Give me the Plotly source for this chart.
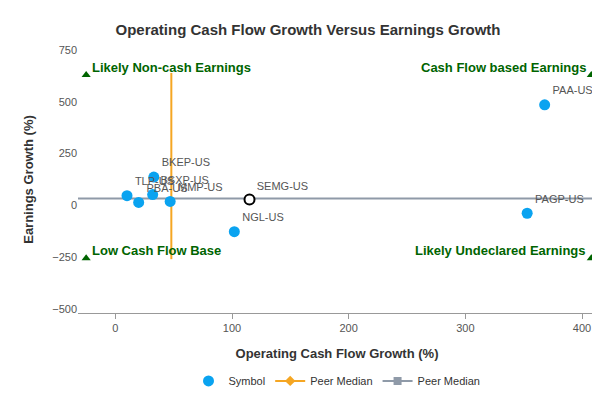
import plotly.graph_objects as go

symbols = ["BKEP-US", "TLP-US", "BSXP-US", "PBA-US", "MMP-US", "NGL-US", "PAGP-US", "PAA-US"]
cf_growth = [33, 10, 32, 20, 47, 102, 353, 368]
eps_growth = [137, 47, 52, 14, 19, -127, -38, 486]

semg_x = [115]
semg_y = [28]

median_x = 48
median_y = 33

corner_x = [-25, 408, -25, 408]
corner_y = [630, 630, -255, -255]
corner_text = ["Likely Non-cash Earnings", "Cash Flow based Earnings",
               "Low Cash Flow Base", "Likely Undeclared Earnings"]

x_range = [-32, 412]
y_range = [-520, 770]

fig = go.Figure()
fig.add_trace(go.Scatter(
    x=[median_x, median_x], y=[640, -260], mode="lines",
    line=dict(color="#f5a623", width=2), name="Peer Median", showlegend=False))
fig.add_trace(go.Scatter(
    x=x_range, y=[median_y, median_y], mode="lines",
    line=dict(color="#8f9aa8", width=2), name="Peer Median", showlegend=False))
fig.add_trace(go.Scatter(
    x=cf_growth, y=eps_growth, mode="markers+text", text=symbols,
    textposition="top right", textfont=dict(size=11, color="#555"),
    marker=dict(size=11, color="#0aa3f0"), name="Symbol", cliponaxis=False))
fig.add_trace(go.Scatter(
    x=semg_x, y=semg_y, mode="markers+text", text=["SEMG-US"],
    textposition="top right", textfont=dict(size=11, color="#555"),
    marker=dict(size=10, color="white", line=dict(color="black", width=2)),
    showlegend=False))
fig.add_trace(go.Scatter(
    x=corner_x, y=corner_y, mode="markers",
    marker=dict(symbol="triangle-up", size=8, color="#006400"),
    showlegend=False, hoverinfo="skip", cliponaxis=False))
# legend entries
fig.add_trace(go.Scatter(x=[None], y=[None], mode="lines+markers",
                         line=dict(color="#f5a623", width=2),
                         marker=dict(symbol="diamond", size=8, color="#f5a623"),
                         name="Peer Median"))
fig.add_trace(go.Scatter(x=[None], y=[None], mode="lines+markers",
                         line=dict(color="#8f9aa8", width=2),
                         marker=dict(symbol="square", size=8, color="#8f9aa8"),
                         name="Peer Median"))

anchors = [("left", "bottom"), ("right", "bottom"), ("left", "bottom"), ("right", "bottom")]
for cx, cy, t, (xa, ya) in zip(corner_x, corner_y, corner_text, anchors):
    fig.add_annotation(x=cx + (3 if xa == "left" else -3), y=cy - 10, text="<b>" + t + "</b>",
                       showarrow=False, xanchor=xa, yanchor="bottom",
                       font=dict(size=13, color="#006400"))

fig.add_annotation(x=1, y=-0.33, xref="paper", yref="paper", text="www.capitalcube.com",
                   showarrow=False, xanchor="right", yanchor="top", font=dict(size=9, color="#888"))

fig.update_layout(
    width=600, height=400,
    margin=dict(l=70, r=12, t=38, b=90),
    paper_bgcolor="white", plot_bgcolor="white",
    font=dict(family="Liberation Sans, Arial", color="#333"),
    title=dict(text="<b>Operating Cash Flow Growth Versus Earnings Growth</b>",
               x=0.5, xanchor="center", y=0.96, font=dict(size=15, color="#333")),
    xaxis=dict(title=dict(text="<b>Operating Cash Flow Growth (%)</b>", font=dict(size=13)),
               range=x_range, tickvals=[0, 100, 200, 300, 400], showgrid=False, zeroline=False,
               showline=True, linecolor="#999", ticks="outside", tickcolor="#999",
               tickfont=dict(size=11, color="#555")),
    yaxis=dict(title=dict(text="<b>Earnings Growth (%)</b>", font=dict(size=13)),
               range=y_range, tickvals=[-500, -250, 0, 250, 500, 750], showgrid=False,
               zeroline=False, showline=False, tickfont=dict(size=11, color="#555")),
    legend=dict(orientation="h", x=0.5, xanchor="center", y=-0.2, yanchor="top",
                font=dict(size=11)),
)

fig.write_html("out.html")
